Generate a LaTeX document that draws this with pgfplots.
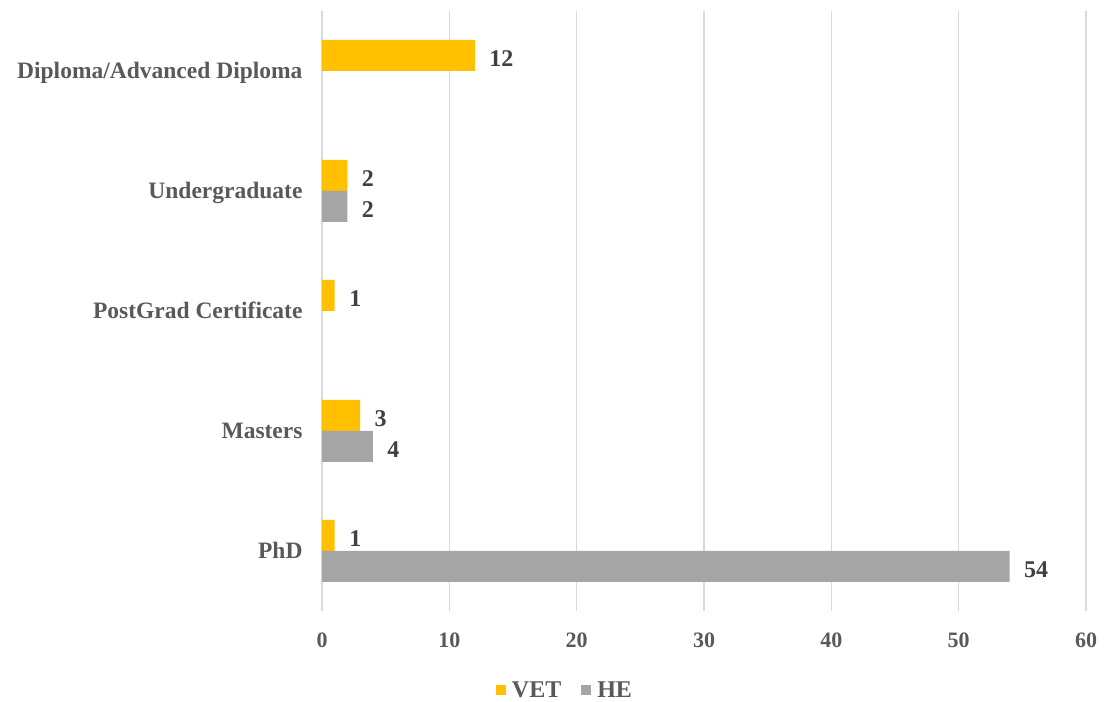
\documentclass[border=0pt]{standalone}
\usepackage{pgfplots}
\pgfplotsset{compat=1.18}
\usepackage{fontspec}
\setmainfont{Liberation Serif}
\definecolor{vet}{HTML}{FFC000}
\definecolor{he}{HTML}{A5A5A5}
\definecolor{txt}{HTML}{595959}
\definecolor{val}{HTML}{404040}
\definecolor{gridc}{HTML}{D9D9D9}
\newcommand{\tickfont}{\fontsize{22bp}{26bp}\selectfont\bfseries}
\newcommand{\catfont}{\fontsize{23.5bp}{28bp}\selectfont\bfseries}
\newcommand{\valfont}{\fontsize{24bp}{28bp}\selectfont\bfseries}

\begin{document}
\begin{tikzpicture}
\path[use as bounding box] (0bp,0bp) rectangle (1105bp,702bp);
\begin{axis}[
  at={(322bp,91bp)}, anchor=south west,
  scale only axis, width=764bp, height=600bp,
  xbar, bar width=31bp,
  xmin=0, xmax=60, ymin=-0.5, ymax=4.5,
  xtick={0,10,...,60},
  ytick={0,1,2,3,4},
  yticklabels={PhD, Masters, PostGrad Certificate, Undergraduate, Diploma/Advanced Diploma},
  axis line style={draw=none},
  major tick length=0pt,
  xmajorgrids, major grid style={gridc, line width=1.5bp},
  ymajorgrids=false,
  /pgf/number format/assume math mode=true,
  xticklabel style={font=\tickfont, text=txt, yshift=-18bp},
  yticklabel style={font=\catfont, text=txt, anchor=base east, xshift=-16bp, yshift=-8bp},
  clip=false,
  nodes near coords,
  every node near coord/.append style={font=\valfont, text=val, anchor=base west, xshift=11bp, yshift=-11bp},
  legend columns=2,
  legend style={draw=none, fill=none, font=\valfont, text=txt,
    at={(axis description cs:0.318,-0.132)}, anchor=center,
    /tikz/every even column/.append style={column sep=18bp}},
  % square swatch followed by a small blank gap before the entry text
  legend image code/.code={\fill[#1] (-6bp,-5bp) rectangle (4bp,5bp); \path (4bp,0bp) -- (8bp,0bp);},
]
\addplot[fill=vet, draw=none, bar shift=15.5bp] coordinates {
  (1,0) (3,1) (1,2) (2,3) (12,4)
};
\addplot[fill=he, draw=none, bar shift=-15.5bp] coordinates {
  (54,0) (4,1) (2,3)
};
\legend{VET, HE}
\end{axis}
\end{tikzpicture}
\end{document}
